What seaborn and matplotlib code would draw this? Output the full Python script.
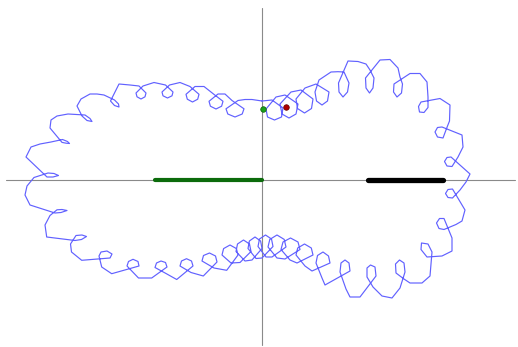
import matplotlib
matplotlib.use("Agg")
import matplotlib.pyplot as plt
import numpy as np
import pandas as pd
import seaborn as sns

# Trajectory vertices (screen-style coordinates, y grows downward), listed in travel order.
top_left = [
    (262, 101), (252, 99.5),
    (245, 99.5), (238, 100.5), (226, 108.8), (227.8, 114), (235, 117), (242.2, 114), (244, 108.8), (232, 100.5),
    (225, 94), (218, 94), (209, 101.3), (210.4, 106.2), (216, 109), (221.6, 106.2), (223, 101.3), (213.5, 94),
    (204, 86.5), (195, 86.5), (186, 94.3), (187.3, 99.2), (192.5, 102), (197.7, 99.2), (199, 94.3), (190, 86.5),
    (180, 82.5), (169.5, 85), (162, 92), (163, 95.8), (167.5, 98), (172, 95.8), (173, 92), (165.5, 85),
    (154, 82.5), (143, 86), (136, 93), (137, 96.8), (141, 99), (145, 96.8), (146, 93), (139, 86),
    (130, 85), (119, 84), (110.5, 101), (114.5, 105.5), (119, 107), (118.5, 104), (114.5, 100), (104, 95),
    (97, 94), (90, 94), (81, 99), (77, 106),
    (82, 116), (87, 120.5), (92, 121.5), (90, 118.5), (85, 115),
    (68, 114), (57, 116), (51, 120), (50, 128),
    (62, 142.4), (66.2, 143.2), (69.5, 143.5), (67.5, 141.5), (62.5, 139.5),
    (51, 142), (40, 144), (31, 147), (26, 157),
    (47, 177), (53, 177), (58.5, 175.5), (54, 173.5), (48, 173),
    (34, 177.5), (27, 186), (25, 195), (30, 205),
]

bottom_left = [
    (55, 213), (61, 212.5), (67, 210.5), (62, 209.5), (57, 209.8),
    (50, 215.5), (45, 225), (46.7, 237),
    (75, 240.5), (81.5, 239.5), (86.5, 236.5), (82, 235), (76, 235.5),
    (70.5, 244), (71.5, 252), (81.7, 260.3),
    (110, 258), (112, 254), (107, 251), (101, 252), (99, 256),
    (101.7, 267), (111.7, 273.7),
    (139, 266), (138, 261.5), (133, 259.3), (128.5, 261.5), (127, 266),
    (138.5, 278), (151.7, 278),
    (167, 267), (165.5, 262.5), (161, 261), (156.5, 263), (155, 267.5),
    (166, 273.5), (176.7, 279.5),
    (193, 266), (191.5, 261), (186.5, 258.7), (181.5, 261), (180, 266),
    (191, 272.5), (203.3, 276),
    (217, 262), (215.5, 256), (209.5, 253), (203.5, 255.5), (202, 261),
    (214, 268), (226.7, 270.3),
    (238, 255), (236.4, 248.6), (230, 245), (223.6, 248.6), (222, 255),
    (231, 263), (240, 262.5),
    (251, 251.5), (249.5, 244), (243.5, 240), (237.5, 244), (236, 251.5),
    (245, 261), (252, 260),
]

bottom_right = [
    (262, 248.5), (260.6, 241), (255, 237), (249.4, 241), (248, 248.5),
    (256, 258.5), (262, 258),
    (273, 246.5), (271.5, 239), (265.5, 235), (259.5, 239), (258, 246.5),
    (266, 257), (272, 257),
    (286, 247), (284.2, 239.4), (277, 235), (269.8, 239.4), (268, 247),
    (277, 258), (285, 259),
    (300, 249.5), (298, 242), (290.5, 238), (283, 242), (281, 249.5),
    (290, 260), (297, 263),
    (313, 255), (311.3, 248), (304.5, 244), (297.7, 248), (296, 255),
    (305, 266), (312, 271),
    (330, 263), (328.5, 256), (323, 252), (317.5, 255.5), (316, 263),
    (322, 278), (325, 285),
    (350, 271), (349, 263), (345, 260), (341, 263), (340, 272),
    (346, 289), (350, 297), (360, 297),
    (376, 276), (375, 267), (370.5, 265), (367, 268), (367, 277),
    (373, 287), (382, 296), (392, 298), (400, 288),
    (405, 272), (404, 263), (399.5, 260), (395.5, 264), (396, 273),
    (404, 279), (410, 283), (422, 283), (430, 276),
    (432, 252), (428, 244), (421.5, 243), (421, 249.5), (427, 257),
    (442, 256), (452, 251), (452, 238),
    (444, 218.5), (439.5, 218.5), (436.5, 223), (439, 228.5), (444, 229.5),
    (456, 224.5), (462, 221), (465, 210),
    (452.5, 189), (448, 189.5), (445.5, 193.5), (448, 197.5), (452.5, 198),
    (460, 190), (466, 182), (470, 174),
]

top_right = [
    (451, 157), (447, 157.5), (444.5, 161.5), (447, 166), (452, 166.5),
    (458, 157), (463, 147), (462, 135),
    (442, 127), (437.5, 127.5), (435, 132), (437.5, 137), (443, 138),
    (447, 127.3), (449.5, 121), (450, 105), (440, 98.5),
    (421, 102), (418.5, 106.5), (419.5, 112), (424, 112.5), (428, 107.5),
    (428, 97), (427, 82), (420, 73.5), (410, 73.5),
    (394, 84), (393.5, 92), (397, 97), (401.5, 93), (402.5, 84),
    (400, 77), (398, 68), (390, 59.5), (380, 60),
    (365.5, 78), (366, 88), (369.5, 93), (373, 88), (374, 78),
    (370, 70), (366, 64), (358, 61.5), (348, 61),
    (338.5, 83), (339, 92), (343, 97), (347.5, 92), (349, 83),
    (344, 72), (338, 71.7), (331, 72),
    (319, 80), (315, 92), (316.5, 101), (322, 105), (327.5, 101), (329, 92),
    (316, 84), (305, 88),
    (296, 99), (297.5, 108.5), (304.5, 113), (311.5, 108.5), (313, 99),
    (301, 90), (291, 92),
    (280, 104), (282, 114), (289, 118), (296, 114), (298, 104),
    (285, 95), (276, 97),
    (266, 109), (267.5, 117), (274.5, 120), (281.5, 117), (283, 108),
    (272, 100), (262, 101),
]

# Segments lying on the horizontal axis
green_segment_x = [155, 262]
black_segment_x = [368, 443]
axis_y = 180
axis_x = 262

# Point markers
green_point = (262.5, 108.5)
red_point = (285.5, 107.3)

path = top_left + bottom_left + bottom_right + top_right
orbit = pd.DataFrame(path, columns=["x", "y"])
orbit["step"] = np.arange(len(orbit))

sns.set_style("white")
fig = plt.figure(figsize=(5.18, 3.47), dpi=100)
ax = fig.add_axes([0, 0, 1, 1])

# Coordinate axes through the origin
sns.lineplot(x=[6, 515], y=[axis_y, axis_y], color="#8a8a8a", lw=0.8, ax=ax, sort=False)
sns.lineplot(x=[axis_x, axis_x], y=[8, 345], color="#8a8a8a", lw=0.8, ax=ax, sort=False,
             estimator=None)

# Thick segments on the x axis
ax.plot(green_segment_x, [axis_y, axis_y], color="#0b6b0b", lw=3.0, solid_capstyle="round")
ax.plot(black_segment_x, [axis_y, axis_y], color="black", lw=3.8, solid_capstyle="round")

# Looping trajectory
sns.lineplot(data=orbit, x="x", y="y", sort=False, estimator=None,
             color=(0.38, 0.38, 1.0), lw=0.85, ax=ax)

sns.scatterplot(x=[green_point[0]], y=[green_point[1]], color="#1aa01a", s=16,
                edgecolor="#0a600a", linewidth=0.5, ax=ax, zorder=5)
sns.scatterplot(x=[red_point[0]], y=[red_point[1]], color="#b00000", s=16,
                edgecolor="#600000", linewidth=0.5, ax=ax, zorder=5)

ax.set_xlim(0, 518)
ax.set_ylim(347, 0)
ax.axis("off")
if ax.get_legend() is not None:
    ax.get_legend().remove()

fig.savefig("out.png", dpi=100)
